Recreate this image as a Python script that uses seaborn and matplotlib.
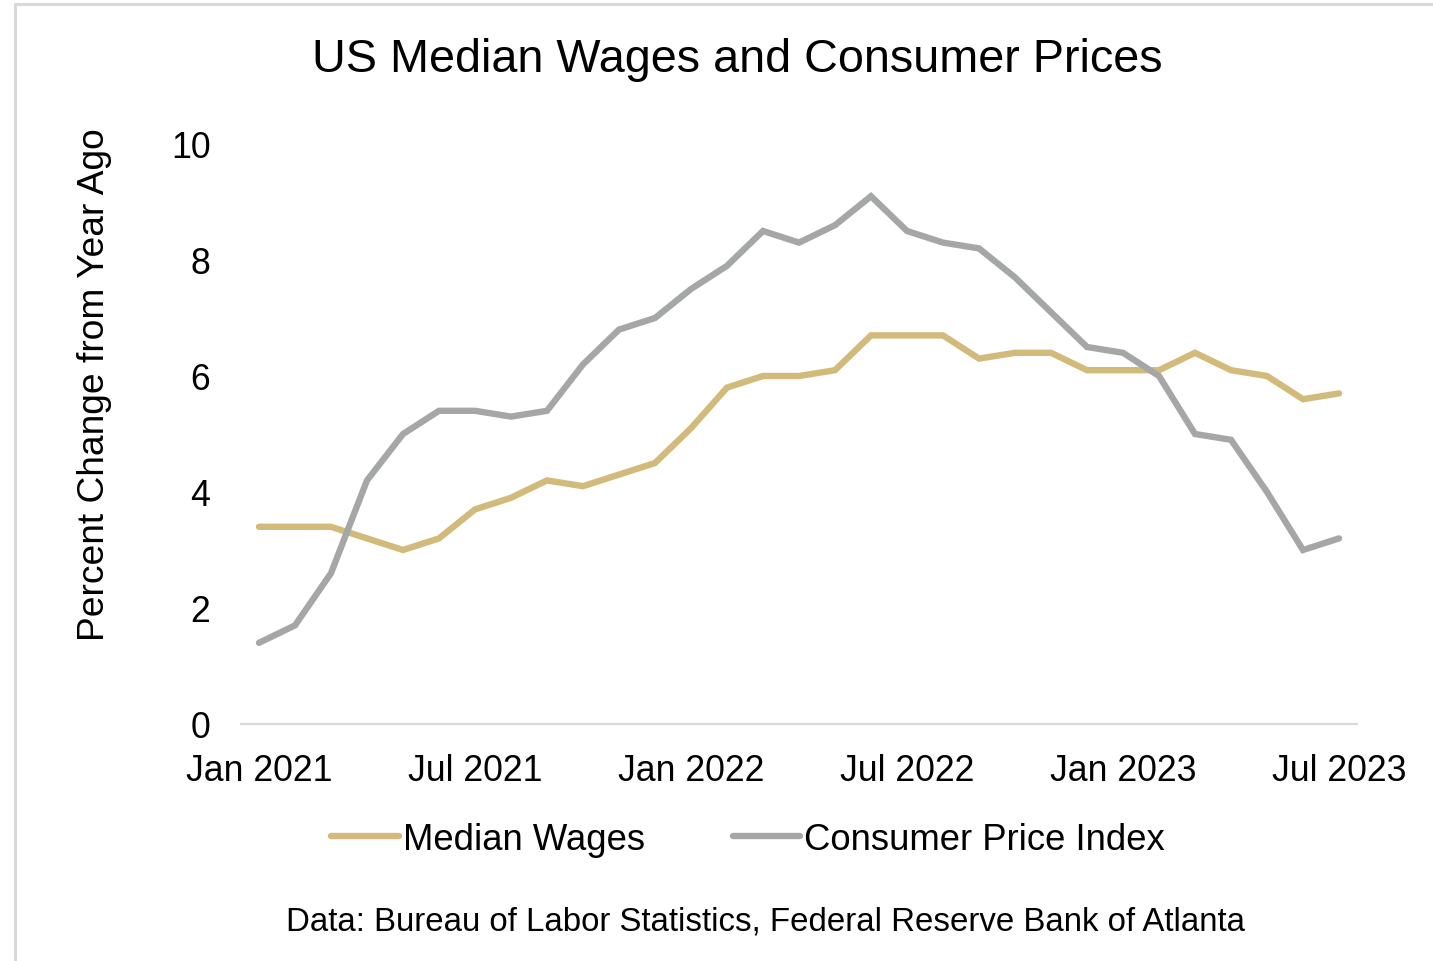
import matplotlib
matplotlib.use("Agg")
import matplotlib.pyplot as plt
import seaborn as sns
import pandas as pd
from matplotlib.lines import Line2D

months = pd.date_range("2021-01-01", "2023-07-01", freq="MS")
month_labels = [d.strftime("%b %Y") for d in months]

median_wages = [3.4, 3.4, 3.4, 3.2, 3.0, 3.2, 3.7, 3.9, 4.2, 4.1, 4.3, 4.5,
                5.1, 5.8, 6.0, 6.0, 6.1, 6.7, 6.7, 6.7, 6.3, 6.4, 6.4, 6.1,
                6.1, 6.1, 6.4, 6.1, 6.0, 5.6, 5.7]
cpi = [1.4, 1.7, 2.6, 4.2, 5.0, 5.4, 5.4, 5.3, 5.4, 6.2, 6.8, 7.0,
       7.5, 7.9, 8.5, 8.3, 8.6, 9.1, 8.5, 8.3, 8.2, 7.7, 7.1, 6.5,
       6.4, 6.0, 5.0, 4.9, 4.0, 3.0, 3.2]

series_names = ["Median Wages", "Consumer Price Index"]
colors = ["#D1BA7A", "#A5A7A7"]
tick_labels = ["Jan 2021", "Jul 2021", "Jan 2022", "Jul 2022", "Jan 2023", "Jul 2023"]
y_ticks = [0, 2, 4, 6, 8, 10]

df = pd.DataFrame({
    "idx": list(range(len(months))) * 2,
    "value": median_wages + cpi,
    "series": [series_names[0]] * len(months) + [series_names[1]] * len(months),
})

sns.set_theme(style="white")
plt.rcParams["font.family"] = ["Liberation Sans", "DejaVu Sans"]

fig = plt.figure(figsize=(14.33, 9.62), dpi=100)
ax = fig.add_axes([241 / 1433, 1 - 725 / 962, 1116 / 1433, 580 / 962])

sns.lineplot(data=df, x="idx", y="value", hue="series", palette=colors,
             hue_order=series_names, linewidth=4.6, ax=ax, legend=False,
             solid_capstyle="round", solid_joinstyle="miter")

ax.set_xlim(-0.5, len(months) - 0.5)
ax.set_ylim(0, 10)
ax.set_yticks(y_ticks)
ax.set_yticklabels([str(v) for v in y_ticks])
tick_pos = [month_labels.index(lbl) for lbl in tick_labels]
ax.set_xticks(tick_pos)
ax.set_xticklabels(tick_labels)
ax.tick_params(axis="both", length=0, labelsize=25.7, colors="#000000")
ax.tick_params(axis="x", pad=21)
ax.tick_params(axis="y", pad=22)
ax.set_xlabel("")
ax.set_ylabel("")
for s in ["top", "right", "left"]:
    ax.spines[s].set_visible(False)
ax.spines["bottom"].set_color("#D9D9D9")
ax.spines["bottom"].set_linewidth(1.6)

fig.text(737 / 1433, 1 - 60 / 962, "US Median Wages and Consumer Prices",
         ha="center", va="center", fontsize=33.7, color="#000000")
fig.text(95 / 1433, 1 - 385 / 962, "Percent Change from Year Ago",
         ha="center", va="center", rotation=90, fontsize=26.7, color="#000000")
fig.text(765 / 1433, 1 - 922 / 962,
         "Data: Bureau of Labor Statistics, Federal Reserve Bank of Atlanta",
         ha="center", va="center", fontsize=23.8, color="#000000")

handles = [Line2D([0], [0], color=c, lw=4.6, solid_capstyle="round") for c in colors]
fig.legend(handles, series_names, loc="center", bbox_to_anchor=(748 / 1433, 1 - 840 / 962),
           ncol=2, frameon=False, fontsize=26.3, handlelength=1.85, handletextpad=0.1,
           columnspacing=2.4, labelcolor="#000000")

# outer border
fig.add_artist(Line2D([15 / 1433, 15 / 1433], [0, 1 - 5 / 962], transform=fig.transFigure,
                      color="#D9D9D9", lw=2.2))
fig.add_artist(Line2D([15 / 1433, 1], [1 - 5 / 962, 1 - 5 / 962], transform=fig.transFigure,
                      color="#D9D9D9", lw=2.2))

fig.savefig("out.png", dpi=100, facecolor="white")
